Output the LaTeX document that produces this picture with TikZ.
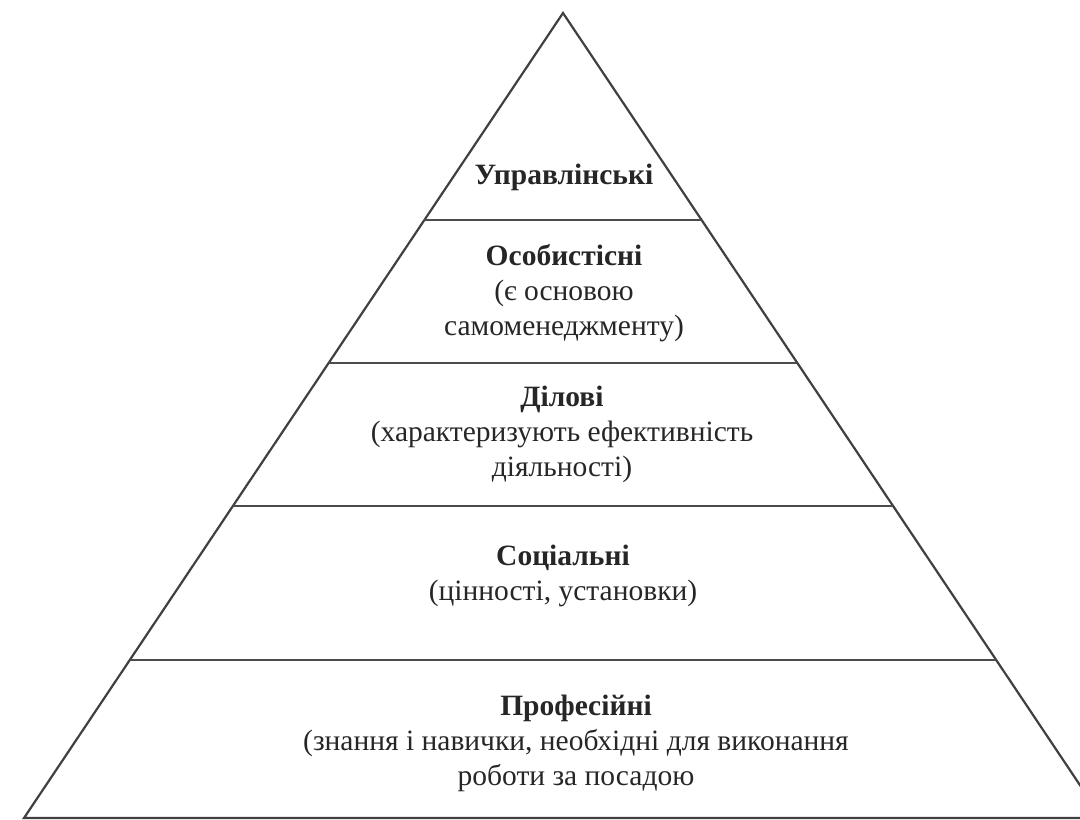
\documentclass[tikz,border=0pt]{standalone}
\usepackage{fontspec}
\setmainfont{Liberation Serif}
\begin{document}
\begin{tikzpicture}[x=1pt,y=-1pt,
  edge/.style={draw=black!75,line width=2.2pt,line join=miter},
  lvl/.style={draw=black!70,line width=2.4pt},
  lbl/.style={align=center,font=\fontsize{29.5}{35}\selectfont,text=black!85,inner sep=0pt}]
\useasboundingbox (0,0) rectangle (1080,820);
\clip (0,0) rectangle (1080,820);
\coordinate (apex) at (563,13);
\coordinate (bl) at (24,818);
\coordinate (br) at (1102,818);
\draw[edge] (bl) -- (apex) -- (br) -- cycle;
\coordinate (l1) at (424,220); \coordinate (r1) at (702,220);
\coordinate (l2) at (329,363); \coordinate (r2) at (797,363);
\coordinate (l3) at (233,506); \coordinate (r3) at (893,506);
\coordinate (l4) at (130,660); \coordinate (r4) at (996,660);
\draw[lvl] (l1) -- (r1);
\draw[lvl] (l2) -- (r2);
\draw[lvl] (l3) -- (r3);
\draw[lvl] (l4) -- (r4);
\node[lbl] (t1) at (564,177) {\textbf{Управлінські}};
\node[lbl] (t2) at (564,293) {\textbf{Особистісні}\\(є основою\\самоменеджменту)};
\node[lbl] (t3) at (562,434) {\textbf{Ділові}\\(характеризують ефективність\\діяльності)};
\node[lbl] (t4) at (563,576) {\textbf{Соціальні}\\(цінності, установки)};
\node[lbl] (t5) at (576,743) {\textbf{Професійні}\\(знання і навички, необхідні для виконання\\роботи за посадою};
\end{tikzpicture}
\end{document}
